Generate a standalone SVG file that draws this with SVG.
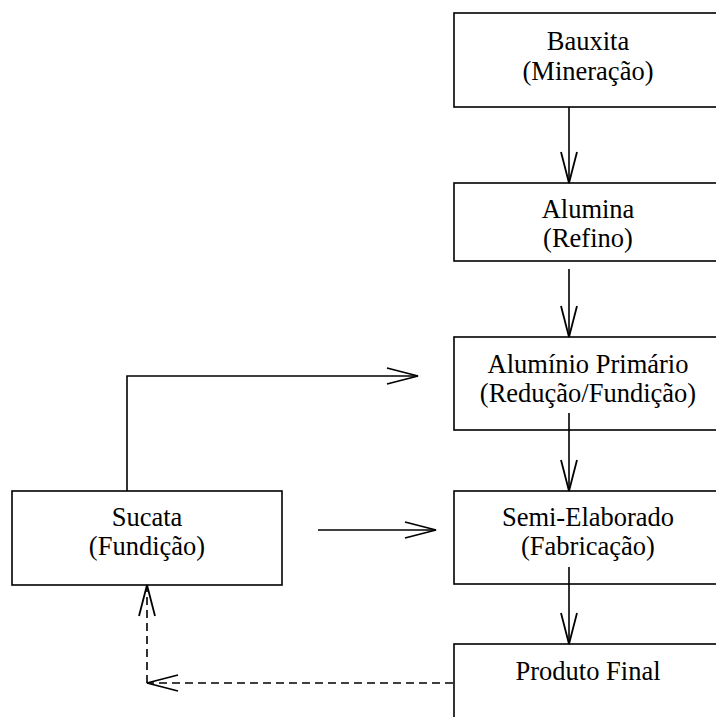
<svg xmlns="http://www.w3.org/2000/svg" width="716" height="717" viewBox="0 0 716 717">
<style>
.box{fill:#fff;stroke:#000;stroke-width:1.6}
.t{font-family:"Liberation Serif","Times New Roman",serif;font-size:26.5px;fill:#000;text-anchor:middle}
.c{fill:none;stroke:#000;stroke-width:1.6}
.d{stroke-dasharray:8,5}
</style>
<defs>
<marker id="ah" markerUnits="userSpaceOnUse" markerWidth="40" markerHeight="24" viewBox="-32 -12 40 24" refX="0" refY="0" orient="auto" overflow="visible">
<path d="M-31,-8 L0,0 L-31,8" fill="none" stroke="#000" stroke-width="1.8"/>
</marker>
</defs>
<rect width="716" height="717" fill="#fff"/>
<g id="bauxita"><rect class="box" x="454" y="13" width="270" height="94"/><text class="t" x="588" y="50">Bauxita</text><text class="t" x="588" y="80">(Mineração)</text></g>
<g id="alumina"><rect class="box" x="454" y="183" width="270" height="78"/><text class="t" x="588" y="218">Alumina</text><text class="t" x="588" y="247">(Refino)</text></g>
<g id="primario"><rect class="box" x="454" y="337" width="270" height="93"/><text class="t" x="588" y="373">Alumínio Primário</text><text class="t" x="588" y="402">(Redução/Fundição)</text></g>
<g id="semi"><rect class="box" x="454" y="491" width="270" height="93"/><text class="t" x="588" y="526">Semi-Elaborado</text><text class="t" x="588" y="555">(Fabricação)</text></g>
<g id="produto"><rect class="box" x="454" y="644" width="270" height="90"/><text class="t" x="588" y="680">Produto Final</text></g>
<g id="sucata"><rect class="box" x="12" y="491" width="270" height="94"/><text class="t" x="147" y="526">Sucata</text><text class="t" x="147" y="555">(Fundição)</text></g>
<g id="connectors">
<path class="c" d="M569,107 V183" marker-end="url(#ah)"/>
<path class="c" d="M569,269 V337" marker-end="url(#ah)"/>
<path class="c" d="M569,413 V491" marker-end="url(#ah)"/>
<path class="c" d="M569,567 V644" marker-end="url(#ah)"/>
<path class="c" d="M127,491 V376 H418" marker-end="url(#ah)"/>
<path class="c" d="M318,530 H436" marker-end="url(#ah)"/>
<path class="c d" d="M453,683 H147" marker-end="url(#ah)"/>
<path class="c d" d="M147,683 V585" marker-end="url(#ah)"/>
</g>
</svg>
